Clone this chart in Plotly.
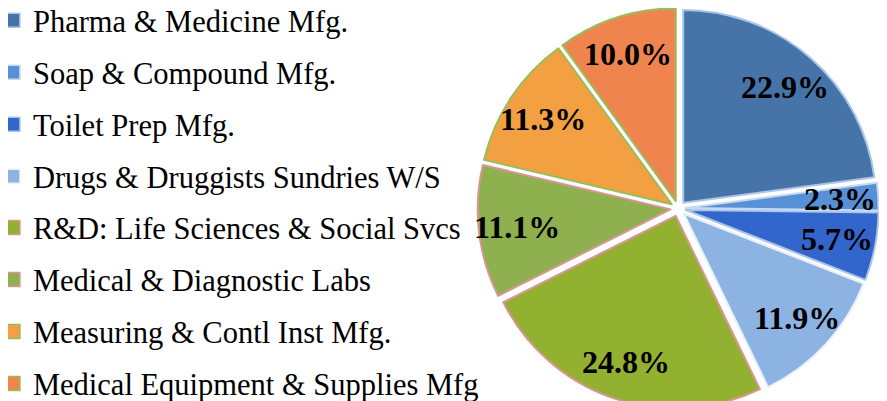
import math
import plotly.graph_objects as go

labels = ["Pharma & Medicine Mfg.", "Soap & Compound Mfg.", "Toilet Prep Mfg.",
          "Drugs & Druggists Sundries W/S", "R&D: Life Sciences & Social Svcs",
          "Medical & Diagnostic Labs", "Measuring & Contl Inst Mfg.",
          "Medical Equipment & Supplies Mfg"]
values = [22.9, 2.3, 5.7, 11.9, 24.8, 11.1, 11.3, 10.0]
colors = ["#4673A8", "#5790D6", "#3366CC", "#8DB3E2", "#93B131", "#8EB04F", "#F2A041", "#F0844F"]
borders = ["#A9C6E8", "#C5D9F1", "#A9C6E8", "#E8F0FA", "#D99694", "#D99694", "#9BBB59", "#9BBB59"]

W, H = 887, 401
PULL = 0.04
DOM_X = [0.511, 1.0]
LABEL_FRAC = 0.8

fig = go.Figure()
fig.add_trace(go.Pie(
    labels=labels, values=values, sort=False, direction="clockwise", rotation=0,
    marker=dict(colors=colors, line=dict(color=borders, width=2)),
    pull=[PULL] * len(values),
    textinfo="none",
    domain=dict(x=DOM_X, y=[0, 1]),
    showlegend=False, hoverinfo="label+percent",
))

# percentage labels placed along each slice's bisector (same geometry plotly uses for the pie)
cx = W * (DOM_X[0] + DOM_X[1]) / 2
cy = H / 2
r = min(W * (DOM_X[1] - DOM_X[0]), H) / (2 + 2 * PULL)
d = PULL * r
total = sum(values)
cum = 0.0
for v in values:
    th = 2 * math.pi * (cum + v / 2) / total
    cum += v
    rad = LABEL_FRAC * r + d
    px = cx + rad * math.sin(th)
    py = cy - rad * math.cos(th)
    fig.add_annotation(x=px / W, y=1 - py / H, xref="paper", yref="paper",
                       text=f"{v / total * 100:.1f}%", showarrow=False,
                       xanchor="center", yanchor="middle",
                       font=dict(family="Liberation Serif", size=32, color="black", weight="bold"))

for i, lab in enumerate(labels):
    fig.add_trace(go.Scatter(
        x=[None], y=[None], mode="markers", name=lab, legendgroup=f"g{i}",
        legend="legend" if i < 4 else "legend2",
        marker=dict(symbol="square", size=14, color=colors[i], line=dict(color=borders[i], width=1.5)),
    ))

legend_common = dict(xanchor="left", tracegroupgap=9.3, maxheight=400,
                     font=dict(family="Liberation Serif", size=30.5, color="black"),
                     itemwidth=30, bgcolor="rgba(0,0,0,0)")
fig.update_layout(
    width=W, height=H, margin=dict(l=0, r=0, t=0, b=0, autoexpand=False),
    paper_bgcolor="white", plot_bgcolor="white",
    xaxis=dict(visible=False), yaxis=dict(visible=False),
    legend=dict(x=-0.017, y=1.035, yanchor="top", **legend_common),
    legend2=dict(x=-0.017, y=-0.003, yanchor="bottom", **legend_common),
)
fig.write_html("out.html")
